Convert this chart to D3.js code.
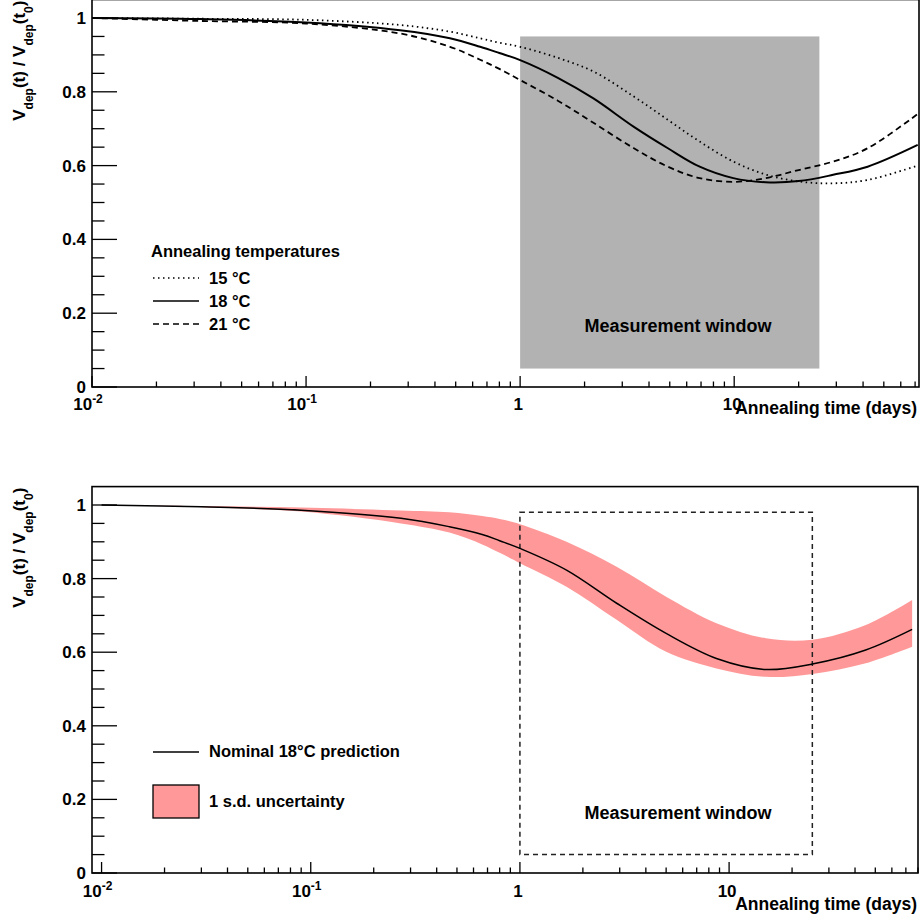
<!DOCTYPE html>
<html>
<head>
<meta charset="utf-8">
<script src="https://cdn.jsdelivr.net/npm/d3@7"></script>
<style>
body { margin: 0; background: #fff; }
svg { display: block; font-family: "Liberation Sans", Arial, sans-serif; font-weight: bold; }
</style>
</head>
<body>
<div id="chart"></div>
<script>
// Top panel: predicted Vdep ratio for three annealing temperatures
const tTop = [0.01, 0.032, 0.1, 0.275, 0.47, 0.65, 0.8, 1, 1.5, 2.2, 3.4, 4.9, 6.9, 9.9, 14, 20, 29, 42, 72];
const v15 = [1.0, 0.998, 0.995, 0.981, 0.963, 0.945, 0.933, 0.922, 0.892, 0.855, 0.787, 0.724, 0.665, 0.611, 0.576, 0.557, 0.552, 0.561, 0.600];
const v18 = [1.0, 0.997, 0.988, 0.967, 0.945, 0.922, 0.905, 0.886, 0.838, 0.782, 0.705, 0.647, 0.597, 0.566, 0.555, 0.558, 0.575, 0.597, 0.656];
const v21 = [1.0, 0.992, 0.985, 0.958, 0.922, 0.887, 0.862, 0.832, 0.776, 0.716, 0.647, 0.597, 0.566, 0.556, 0.566, 0.588, 0.611, 0.647, 0.740];
const tempLabels = ["15 °C", "18 °C", "21 °C"];
const tempDash = ["1.5,3.5", null, "6,4"];

// Bottom panel: nominal 18 C prediction and 1 s.d. band
const tBot = [0.01, 0.03, 0.09, 0.27, 0.46, 0.66, 0.8, 1, 1.67, 2.9, 5, 8.7, 15, 25, 45, 75];
const nominal = [1.0, 0.995, 0.986, 0.964, 0.941, 0.920, 0.903, 0.882, 0.823, 0.733, 0.651, 0.583, 0.553, 0.568, 0.606, 0.662];
const bandHigh = [1.0, 0.997, 0.993, 0.985, 0.980, 0.970, 0.962, 0.948, 0.900, 0.832, 0.751, 0.679, 0.638, 0.634, 0.674, 0.742];
const bandLow = [1.0, 0.994, 0.982, 0.950, 0.925, 0.893, 0.870, 0.842, 0.778, 0.688, 0.601, 0.556, 0.533, 0.541, 0.570, 0.615];

// Measurement window (days, ratio)
const windowDays = [1, 25];
const windowTop = [0.05, 0.95];
const windowBot = [0.05, 0.98];

const yMajor = [0, 0.2, 0.4, 0.6, 0.8, 1];
const xMajorLabels = [["10", "-2"], ["10", "-1"], ["1", ""], ["10", ""]];

const svg = d3.select("#chart").append("svg")
  .attr("width", 924)
  .attr("height", 919);

const smooth = d3.curveCatmullRom.alpha(0.5);

function drawPanel(p) {
  const x = d3.scaleLog().domain(p.xDomain).range([p.left, p.right]);
  const y = d3.scaleLinear().domain([0, 1]).range([p.y0, p.y1]);
  const g = svg.append("g");
  const top = y(1.05);

  // y ticks
  const yMinor = d3.range(0, 1.0001, 0.05);
  g.selectAll(".ytick").data(yMinor).enter().append("line")
    .attr("x1", p.left)
    .attr("x2", d => p.left + (yMajor.some(m => Math.abs(m - d) < 1e-6) ? 25 : 12.5))
    .attr("y1", d => y(d)).attr("y2", d => y(d))
    .attr("stroke", "#000").attr("stroke-width", 1.3);

  g.selectAll(".ylab").data(yMajor).enter().append("text")
    .attr("x", 86)
    .attr("y", d => y(d) + 6)
    .attr("text-anchor", "end")
    .attr("font-size", 17)
    .text(d => d === 0 || d === 1 ? d : d.toFixed(1));

  // x ticks (log decades with minor ticks)
  const xt = x.ticks().filter(d => d >= 0.00999);
  g.selectAll(".xtick").data(xt).enter().append("line")
    .attr("x1", d => x(d)).attr("x2", d => x(d))
    .attr("y1", p.y0)
    .attr("y2", d => {
      const l = Math.log10(d);
      return p.y0 - (Math.abs(l - Math.round(l)) < 1e-6 ? 11 : 5.5);
    })
    .attr("stroke", "#000").attr("stroke-width", 1.3);

  const decades = [0.01, 0.1, 1, 10];
  decades.forEach((d, i) => {
    const lab = xMajorLabels[i];
    const t = g.append("text")
      .attr("x", x(d) - (lab[1] ? 4 : 2))
      .attr("y", p.y0 + p.labelDy)
      .attr("text-anchor", "middle")
      .attr("font-size", 17);
    t.append("tspan").text(lab[0]);
    if (lab[1]) t.append("tspan").attr("dy", -7).attr("font-size", 12).text(lab[1]);
  });

  g.append("text")
    .attr("x", 917)
    .attr("y", p.y0 + p.titleDy)
    .attr("text-anchor", "end")
    .attr("font-size", 17.5)
    .text("Annealing time (days)");

  // y title
  const yt = g.append("text")
    .attr("transform", `translate(25,${top + 1}) rotate(-90)`)
    .attr("text-anchor", "end")
    .attr("font-size", 17);
  const parts = [["V", 0], ["dep", 1], ["(t) / V", 0], ["dep", 1], ["(t", 0], ["0", 1], [")", 0]];
  let sub = 0;
  parts.forEach(([s, isSub]) => {
    yt.append("tspan")
      .attr("dy", isSub ? 8 - sub : -sub)
      .attr("font-size", isSub ? 12 : 17)
      .text(s);
    sub = isSub ? 8 : 0;
  });

  return { g, x, y, top };
}

function drawFrame(g, p, top) {
  g.append("rect")
    .attr("x", p.left).attr("y", top)
    .attr("width", p.right - p.left).attr("height", p.y0 - top)
    .attr("fill", "none").attr("stroke", "#000").attr("stroke-width", 1.6);
}

// ---------- top panel ----------
const pTop = { left: 92, right: 919, y0: 387, y1: 18, xDomain: [0.01, 73], labelDy: 23, titleDy: 27 };
const A = drawPanel(pTop);

A.g.append("rect")
  .attr("x", A.x(windowDays[0]))
  .attr("y", A.y(windowTop[1]))
  .attr("width", A.x(windowDays[1]) - A.x(windowDays[0]))
  .attr("height", A.y(windowTop[0]) - A.y(windowTop[1]))
  .attr("fill", "#b2b2b2");

A.g.append("text")
  .attr("x", 678).attr("y", 332)
  .attr("text-anchor", "middle")
  .attr("font-size", 18)
  .text("Measurement window");

const series = [v15, v18, v21];
series.forEach((vals, i) => {
  const line = d3.line()
    .x((d, j) => A.x(tTop[j]))
    .y(d => A.y(d))
    .curve(smooth);
  A.g.append("path")
    .datum(vals)
    .attr("fill", "none")
    .attr("stroke", "#000")
    .attr("stroke-width", i === 1 ? 2 : 1.8)
    .attr("stroke-dasharray", tempDash[i])
    .attr("d", line);
});

// legend
A.g.append("text").attr("x", 151).attr("y", 257).attr("font-size", 16.5).text("Annealing temperatures");
tempLabels.forEach((lab, i) => {
  const ly = 278 + i * 23;
  A.g.append("line")
    .attr("x1", 153).attr("x2", 199).attr("y1", ly).attr("y2", ly)
    .attr("stroke", "#000").attr("stroke-width", i === 1 ? 1.6 : 1.5)
    .attr("stroke-dasharray", tempDash[i]);
  A.g.append("text").attr("x", 209).attr("y", ly + 6).attr("font-size", 16.5).text(lab);
});

drawFrame(A.g, pTop, A.top);

// ---------- bottom panel ----------
const pBot = { left: 92, right: 918, y0: 873, y1: 505, xDomain: [0.009, 80], labelDy: 24, titleDy: 37 };
const B = drawPanel(pBot);

const area = d3.area()
  .x((d, j) => B.x(tBot[j]))
  .y0((d, j) => B.y(bandLow[j]))
  .y1((d, j) => B.y(bandHigh[j]))
  .curve(smooth);
B.g.append("path")
  .datum(tBot)
  .attr("fill", "#ff9999")
  .attr("d", area);

B.g.append("rect")
  .attr("x", B.x(windowDays[0]))
  .attr("y", B.y(windowBot[1]))
  .attr("width", B.x(windowDays[1]) - B.x(windowDays[0]))
  .attr("height", B.y(windowBot[0]) - B.y(windowBot[1]))
  .attr("fill", "none")
  .attr("stroke", "#222")
  .attr("stroke-width", 1.5)
  .attr("stroke-dasharray", "5,4");

B.g.append("path")
  .datum(nominal)
  .attr("fill", "none")
  .attr("stroke", "#000")
  .attr("stroke-width", 1.5)
  .attr("d", d3.line().x((d, j) => B.x(tBot[j])).y(d => B.y(d)).curve(smooth));

B.g.append("text")
  .attr("x", 678).attr("y", 819)
  .attr("text-anchor", "middle")
  .attr("font-size", 18)
  .text("Measurement window");

// legend
B.g.append("line")
  .attr("x1", 153).attr("x2", 199).attr("y1", 752).attr("y2", 752)
  .attr("stroke", "#000").attr("stroke-width", 1.5);
B.g.append("text").attr("x", 209).attr("y", 757).attr("font-size", 16.5).text("Nominal 18°C prediction");
B.g.append("rect")
  .attr("x", 153).attr("y", 785).attr("width", 46).attr("height", 33)
  .attr("fill", "#ff9999").attr("stroke", "#000").attr("stroke-width", 1.3);
B.g.append("text").attr("x", 209).attr("y", 807).attr("font-size", 16.5).text("1 s.d. uncertainty");

drawFrame(B.g, pBot, B.top);
</script>
</body>
</html>
